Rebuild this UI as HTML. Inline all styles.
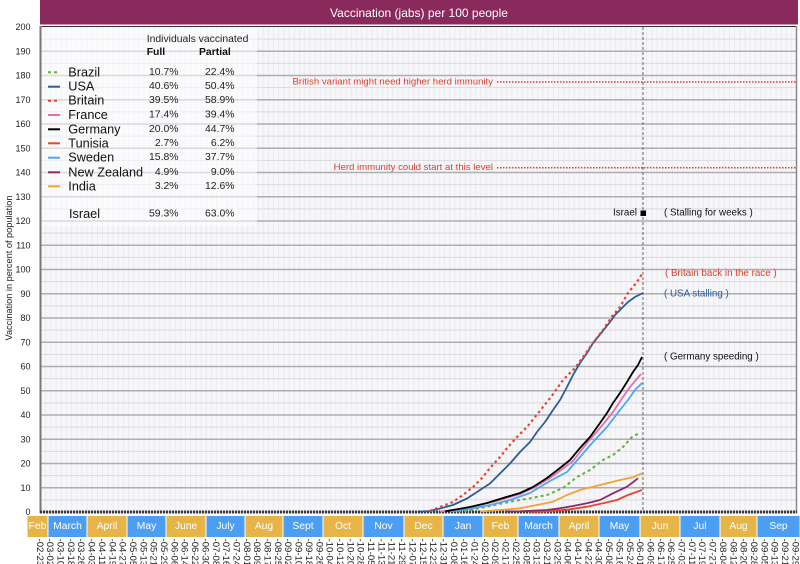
<!DOCTYPE html>
<html><head><meta charset="utf-8"><style>
html,body{margin:0;padding:0;background:#fff;}
svg{display:block;font-family:"Liberation Sans",Arial,sans-serif;}
</style></head><body>
<svg width="800" height="564" viewBox="0 0 800 564" xmlns="http://www.w3.org/2000/svg">
<defs>
<pattern id="vg" x="40" y="0" width="5.18" height="10" patternUnits="userSpaceOnUse">
<rect x="0" y="0" width="5.18" height="10" fill="#f7f7fa"/>
<rect x="0" y="0" width="1" height="10" fill="#ebebf0"/>
</pattern>
</defs>
<!-- title -->
<rect x="40" y="0" width="758" height="24.5" fill="#8A2A5C"/>
<text x="419" y="13" fill="#fff" font-size="12" text-anchor="middle" dominant-baseline="central">Vaccination (jabs) per 100 people</text>
<!-- plot bg -->
<rect x="40" y="27" width="757" height="485" fill="url(#vg)"/>
<line x1="40" y1="26.5" x2="797" y2="26.5" stroke="#333" stroke-width="1"/>
<!-- minor gridlines -->
<g stroke="#dadade" stroke-width="1">
<line x1="40" x2="797" y1="499.9" y2="499.9"/><line x1="40" x2="797" y1="475.6" y2="475.6"/><line x1="40" x2="797" y1="451.4" y2="451.4"/><line x1="40" x2="797" y1="427.1" y2="427.1"/><line x1="40" x2="797" y1="402.9" y2="402.9"/><line x1="40" x2="797" y1="378.6" y2="378.6"/><line x1="40" x2="797" y1="354.4" y2="354.4"/><line x1="40" x2="797" y1="330.1" y2="330.1"/><line x1="40" x2="797" y1="305.9" y2="305.9"/><line x1="40" x2="797" y1="281.6" y2="281.6"/><line x1="40" x2="797" y1="257.4" y2="257.4"/><line x1="40" x2="797" y1="233.1" y2="233.1"/><line x1="40" x2="797" y1="208.9" y2="208.9"/><line x1="40" x2="797" y1="184.6" y2="184.6"/><line x1="40" x2="797" y1="160.4" y2="160.4"/><line x1="40" x2="797" y1="136.1" y2="136.1"/><line x1="40" x2="797" y1="111.9" y2="111.9"/><line x1="40" x2="797" y1="87.6" y2="87.6"/><line x1="40" x2="797" y1="63.4" y2="63.4"/><line x1="40" x2="797" y1="39.1" y2="39.1"/>
</g>
<!-- major gridlines -->
<g stroke="#aeaeb2" stroke-width="1.5">
<line x1="40" x2="797" y1="487.8" y2="487.8"/><line x1="40" x2="797" y1="463.5" y2="463.5"/><line x1="40" x2="797" y1="439.3" y2="439.3"/><line x1="40" x2="797" y1="415" y2="415"/><line x1="40" x2="797" y1="390.8" y2="390.8"/><line x1="40" x2="797" y1="366.5" y2="366.5"/><line x1="40" x2="797" y1="342.3" y2="342.3"/><line x1="40" x2="797" y1="318" y2="318"/><line x1="40" x2="797" y1="293.8" y2="293.8"/><line x1="40" x2="797" y1="269.5" y2="269.5"/><line x1="40" x2="797" y1="245.3" y2="245.3"/><line x1="40" x2="797" y1="221" y2="221"/><line x1="40" x2="797" y1="196.8" y2="196.8"/><line x1="40" x2="797" y1="172.5" y2="172.5"/><line x1="40" x2="797" y1="148.3" y2="148.3"/><line x1="40" x2="797" y1="124" y2="124"/><line x1="40" x2="797" y1="99.8" y2="99.8"/><line x1="40" x2="797" y1="75.5" y2="75.5"/><line x1="40" x2="797" y1="51.3" y2="51.3"/>
</g>
<!-- legend backdrop -->
<rect x="41" y="28" width="216" height="198" fill="#ffffff" opacity="0.55"/>
<!-- axes -->
<line x1="40.5" y1="26" x2="40.5" y2="513" stroke="#777" stroke-width="2"/>
<line x1="796.5" y1="26" x2="796.5" y2="513" stroke="#888" stroke-width="1.5"/>
<line x1="40" y1="512" x2="797" y2="512" stroke="#3a3a3a" stroke-width="3" stroke-dasharray="2.2,0.8"/>
<!-- vertical dashed today line -->
<line x1="643" y1="27" x2="643" y2="511" stroke="#666" stroke-width="1" stroke-dasharray="3,2"/>
<!-- y tick labels -->
<g font-size="9" fill="#222" text-anchor="end" dominant-baseline="central">
<text x="30.5" y="512">0</text><text x="30.5" y="487.8">10</text><text x="30.5" y="463.5">20</text><text x="30.5" y="439.3">30</text><text x="30.5" y="415">40</text><text x="30.5" y="390.8">50</text><text x="30.5" y="366.5">60</text><text x="30.5" y="342.3">70</text><text x="30.5" y="318">80</text><text x="30.5" y="293.8">90</text><text x="30.5" y="269.5">100</text><text x="30.5" y="245.3">110</text><text x="30.5" y="221">120</text><text x="30.5" y="196.8">130</text><text x="30.5" y="172.5">140</text><text x="30.5" y="148.3">150</text><text x="30.5" y="124">160</text><text x="30.5" y="99.8">170</text><text x="30.5" y="75.5">180</text><text x="30.5" y="51.3">190</text><text x="30.5" y="27">200</text>
</g>
<text transform="translate(9,268) rotate(-90)" font-size="9.2" fill="#222" text-anchor="middle" dominant-baseline="central">Vaccination in percent of population</text>
<!-- reference lines -->
<line x1="497" y1="82" x2="796" y2="82" stroke="#E0402C" stroke-width="1.5" stroke-dasharray="1.5,1.5"/>
<line x1="497" y1="167.7" x2="796" y2="167.7" stroke="#E0402C" stroke-width="1.5" stroke-dasharray="1.5,1.5"/>
<g font-size="9.6" fill="#D8402C" text-anchor="end" dominant-baseline="central">
<text x="493" y="82">British variant might need higher herd immunity</text>
<text x="493" y="167.7">Herd immunity could start at this level</text>
</g>
<!-- annotations -->
<rect x="640.5" y="210.5" width="5.5" height="5.5" fill="#000"/>
<g font-size="9.8" dominant-baseline="central">
<text x="637" y="213" fill="#111" text-anchor="end">Israel</text>
<text x="664" y="213" fill="#111">( Stalling for weeks )</text>
<text x="665" y="273.5" fill="#D8402C">( Britain back in the race )</text>
<text x="664" y="294" fill="#2D5D95">( USA stalling )</text>
<text x="664" y="357" fill="#111">( Germany speeding )</text>
</g>
<!-- series -->
<g fill="none" stroke-linejoin="round" stroke-linecap="butt">
<polyline stroke="#E4472D" stroke-width="1.8" points="530,511.8 547,511.5 570,509.3 587,506.7 603,503.3 617,500 628,495 642,490"/>
<polyline stroke="#8A2A6B" stroke-width="1.8" points="505,511.5 520,511.3 547,510 560,508.3 573,506 587,503.3 600,500 613,493.3 627,486.7 638,478.3"/>
<polyline stroke="#F5A133" stroke-width="1.8" points="480,511.5 500,510 520,508.3 537,505 553,501.7 567,495 580,490 593,486.7 607,483.3 620,480 633,477.3 642,473.3"/>
<polyline stroke="#5FB13C" stroke-width="2" stroke-dasharray="3,3" points="458,511.5 470,510 487,506.7 510,501.7 530,498.3 547,495 563,488 577,477 590,470 603,460 613,455 623,447 632,437 640,432.7"/>
<polyline stroke="#4EA5F2" stroke-width="1.8" points="450,511.5 470,509 490,505 510,500 530,493 550,481 567,472 580,457 593,442 607,427 620,410 628,400 635,390 642,383"/>
<polyline stroke="#E26FB0" stroke-width="1.8" points="440,511.5 460,509 480,505 500,500 520,494 535,487 550,478 565,467 573,461 587,443 600,428 613,412 623,397 630,387 641,374"/>
<polyline stroke="#000" stroke-width="1.8" points="445,511.5 450,510.5 470,507 487,503 503,498 520,493 533,487 547,478 560,468 570,460 580,448 590,437 600,423 607,413 613,403 620,393 627,382 633,372 638,365 642,357"/>
<polyline stroke="#2D5D95" stroke-width="1.8" points="420,511.5 430,511 440,508.5 453,505 467,498.5 480,490 490,483.5 500,473.5 510,463.5 520,452 530,442 537,432 545,422 553,410 560,400 567,387 573,375 580,363 587,353 593,343 602,332 610,322 615,315 622,308 628,302 635,297 643,293"/>
<polyline stroke="#E8412F" stroke-width="2.2" stroke-dasharray="2.5,3" points="430,511 440,507 453,502 463,495 473,487 482,478 490,468 500,457 508,447 517,437 527,427 535,417 543,407 551,397 563,380 575,368 583,357 593,343 603,330 613,315 620,307 628,293 637,282 642,274"/>
</g>
<!-- legend -->
<text x="146.7" y="39.5" font-size="10.4" fill="#222" dominant-baseline="central">Individuals vaccinated</text>
<text x="146.7" y="52.5" font-size="10.4" font-weight="bold" fill="#111" dominant-baseline="central">Full</text>
<text x="199" y="52.5" font-size="10.4" font-weight="bold" fill="#111" dominant-baseline="central">Partial</text>
<g stroke-width="2">
<line x1="48" x2="60" y1="72.3" y2="72.3" stroke="#5FB13C" stroke-dasharray="3,3"/>
<line x1="48" x2="60" y1="86.7" y2="86.7" stroke="#2D5D95"/>
<line x1="48" x2="60" y1="100.7" y2="100.7" stroke="#E8412F" stroke-dasharray="3,3"/>
<line x1="48" x2="60" y1="115" y2="115" stroke="#E26FB0"/>
<line x1="48" x2="60" y1="129.3" y2="129.3" stroke="#000"/>
<line x1="48" x2="60" y1="143.3" y2="143.3" stroke="#E4472D"/>
<line x1="48" x2="60" y1="157.7" y2="157.7" stroke="#4EA5F2"/>
<line x1="48" x2="60" y1="172.3" y2="172.3" stroke="#8A2A6B"/>
<line x1="48" x2="60" y1="186.3" y2="186.3" stroke="#F5A133"/>
</g>
<g font-size="12.7" fill="#111" dominant-baseline="central">
<text x="68.3" y="72.3">Brazil</text>
<text x="68.3" y="86.7">USA</text>
<text x="68.3" y="100.7">Britain</text>
<text x="68.3" y="115">France</text>
<text x="68.3" y="129.3">Germany</text>
<text x="68.3" y="143.3">Tunisia</text>
<text x="68.3" y="157.7">Sweden</text>
<text x="68.3" y="172.3">New Zealand</text>
<text x="68.3" y="186.3">India</text>
<text x="69" y="214">Israel</text>
</g>
<g font-size="10.4" fill="#222" text-anchor="end" dominant-baseline="central">
<text x="178.5" y="72.3">10.7%</text><text x="234.5" y="72.3">22.4%</text>
<text x="178.5" y="86.7">40.6%</text><text x="234.5" y="86.7">50.4%</text>
<text x="178.5" y="100.7">39.5%</text><text x="234.5" y="100.7">58.9%</text>
<text x="178.5" y="115">17.4%</text><text x="234.5" y="115">39.4%</text>
<text x="178.5" y="129.3">20.0%</text><text x="234.5" y="129.3">44.7%</text>
<text x="178.5" y="143.3">2.7%</text><text x="234.5" y="143.3">6.2%</text>
<text x="178.5" y="157.7">15.8%</text><text x="234.5" y="157.7">37.7%</text>
<text x="178.5" y="172.3">4.9%</text><text x="234.5" y="172.3">9.0%</text>
<text x="178.5" y="186.3">3.2%</text><text x="234.5" y="186.3">12.6%</text>
<text x="178.5" y="214">59.3%</text><text x="234.5" y="214">63.0%</text>
</g>
<!-- month band -->
<g stroke="#fff" stroke-width="1">
<rect x="27" y="515.5" width="21" height="22" fill="#E6B447"/>
<rect x="48" y="515.5" width="39" height="22" fill="#4C9EF2"/>
<rect x="87" y="515.5" width="40" height="22" fill="#E6B447"/>
<rect x="127" y="515.5" width="39" height="22" fill="#4C9EF2"/>
<rect x="166" y="515.5" width="40" height="22" fill="#E6B447"/>
<rect x="206" y="515.5" width="39" height="22" fill="#4C9EF2"/>
<rect x="245" y="515.5" width="38" height="22" fill="#E6B447"/>
<rect x="283" y="515.5" width="40" height="22" fill="#4C9EF2"/>
<rect x="323" y="515.5" width="40" height="22" fill="#E6B447"/>
<rect x="363" y="515.5" width="41" height="22" fill="#4C9EF2"/>
<rect x="404" y="515.5" width="39" height="22" fill="#E6B447"/>
<rect x="443" y="515.5" width="40" height="22" fill="#4C9EF2"/>
<rect x="483" y="515.5" width="35" height="22" fill="#E6B447"/>
<rect x="518" y="515.5" width="41" height="22" fill="#4C9EF2"/>
<rect x="559" y="515.5" width="40" height="22" fill="#E6B447"/>
<rect x="599" y="515.5" width="41" height="22" fill="#4C9EF2"/>
<rect x="640" y="515.5" width="40" height="22" fill="#E6B447"/>
<rect x="680" y="515.5" width="40" height="22" fill="#4C9EF2"/>
<rect x="720" y="515.5" width="37" height="22" fill="#E6B447"/>
<rect x="757" y="515.5" width="43" height="22" fill="#4C9EF2"/>
</g>
<g font-size="10.3" fill="#fff" text-anchor="middle" dominant-baseline="central">
<text x="37.5" y="526.5">Feb</text><text x="67.5" y="526.5">March</text><text x="107" y="526.5">April</text><text x="146.5" y="526.5">May</text><text x="186" y="526.5">June</text><text x="225.5" y="526.5">July</text><text x="264" y="526.5">Aug</text><text x="303" y="526.5">Sept</text><text x="343" y="526.5">Oct</text><text x="383.5" y="526.5">Nov</text><text x="423.5" y="526.5">Dec</text><text x="463" y="526.5">Jan</text><text x="500.5" y="526.5">Feb</text><text x="538.5" y="526.5">March</text><text x="579" y="526.5">April</text><text x="619.5" y="526.5">May</text><text x="660" y="526.5">Jun</text><text x="700" y="526.5">Jul</text><text x="738.5" y="526.5">Aug</text><text x="778.5" y="526.5">Sep</text>
</g>
<!-- date labels -->
<g font-size="9.6" fill="#222" dominant-baseline="central">
<text transform="translate(39.3,538.5) rotate(90)">-02-23</text>
<text transform="translate(49.65,538.5) rotate(90)">-03-02</text>
<text transform="translate(60,538.5) rotate(90)">-03-10</text>
<text transform="translate(70.35,538.5) rotate(90)">-03-18</text>
<text transform="translate(80.7,538.5) rotate(90)">-03-26</text>
<text transform="translate(91.05,538.5) rotate(90)">-04-03</text>
<text transform="translate(101.4,538.5) rotate(90)">-04-11</text>
<text transform="translate(111.75,538.5) rotate(90)">-04-19</text>
<text transform="translate(122.1,538.5) rotate(90)">-04-27</text>
<text transform="translate(132.45,538.5) rotate(90)">-05-05</text>
<text transform="translate(142.8,538.5) rotate(90)">-05-13</text>
<text transform="translate(153.15,538.5) rotate(90)">-05-21</text>
<text transform="translate(163.5,538.5) rotate(90)">-05-29</text>
<text transform="translate(173.85,538.5) rotate(90)">-06-06</text>
<text transform="translate(184.2,538.5) rotate(90)">-06-14</text>
<text transform="translate(194.55,538.5) rotate(90)">-06-22</text>
<text transform="translate(204.9,538.5) rotate(90)">-06-30</text>
<text transform="translate(215.25,538.5) rotate(90)">-07-08</text>
<text transform="translate(225.6,538.5) rotate(90)">-07-16</text>
<text transform="translate(235.95,538.5) rotate(90)">-07-24</text>
<text transform="translate(246.3,538.5) rotate(90)">-08-01</text>
<text transform="translate(256.65,538.5) rotate(90)">-08-09</text>
<text transform="translate(267,538.5) rotate(90)">-08-17</text>
<text transform="translate(277.35,538.5) rotate(90)">-08-25</text>
<text transform="translate(287.7,538.5) rotate(90)">-09-02</text>
<text transform="translate(298.05,538.5) rotate(90)">-09-10</text>
<text transform="translate(308.4,538.5) rotate(90)">-09-18</text>
<text transform="translate(318.75,538.5) rotate(90)">-09-26</text>
<text transform="translate(329.1,538.5) rotate(90)">-10-04</text>
<text transform="translate(339.45,538.5) rotate(90)">-10-12</text>
<text transform="translate(349.8,538.5) rotate(90)">-10-20</text>
<text transform="translate(360.15,538.5) rotate(90)">-10-28</text>
<text transform="translate(370.5,538.5) rotate(90)">-11-05</text>
<text transform="translate(380.85,538.5) rotate(90)">-11-13</text>
<text transform="translate(391.2,538.5) rotate(90)">-11-21</text>
<text transform="translate(401.55,538.5) rotate(90)">-11-29</text>
<text transform="translate(411.9,538.5) rotate(90)">-12-07</text>
<text transform="translate(422.25,538.5) rotate(90)">-12-15</text>
<text transform="translate(432.6,538.5) rotate(90)">-12-23</text>
<text transform="translate(442.95,538.5) rotate(90)">-12-31</text>
<text transform="translate(453.3,538.5) rotate(90)">-01-08</text>
<text transform="translate(463.65,538.5) rotate(90)">-01-16</text>
<text transform="translate(474,538.5) rotate(90)">-01-24</text>
<text transform="translate(484.35,538.5) rotate(90)">-02-01</text>
<text transform="translate(494.7,538.5) rotate(90)">-02-09</text>
<text transform="translate(505.05,538.5) rotate(90)">-02-17</text>
<text transform="translate(515.4,538.5) rotate(90)">-02-25</text>
<text transform="translate(525.75,538.5) rotate(90)">-03-05</text>
<text transform="translate(536.1,538.5) rotate(90)">-03-13</text>
<text transform="translate(546.45,538.5) rotate(90)">-03-21</text>
<text transform="translate(556.8,538.5) rotate(90)">-03-29</text>
<text transform="translate(567.15,538.5) rotate(90)">-04-06</text>
<text transform="translate(577.5,538.5) rotate(90)">-04-14</text>
<text transform="translate(587.85,538.5) rotate(90)">-04-22</text>
<text transform="translate(598.2,538.5) rotate(90)">-04-30</text>
<text transform="translate(608.55,538.5) rotate(90)">-05-08</text>
<text transform="translate(618.9,538.5) rotate(90)">-05-16</text>
<text transform="translate(629.25,538.5) rotate(90)">-05-24</text>
<text transform="translate(639.6,538.5) rotate(90)">-06-01</text>
<text transform="translate(649.95,538.5) rotate(90)">-06-09</text>
<text transform="translate(660.3,538.5) rotate(90)">-06-17</text>
<text transform="translate(670.65,538.5) rotate(90)">-06-25</text>
<text transform="translate(681,538.5) rotate(90)">-07-03</text>
<text transform="translate(691.35,538.5) rotate(90)">-07-11</text>
<text transform="translate(701.7,538.5) rotate(90)">-07-19</text>
<text transform="translate(712.05,538.5) rotate(90)">-07-27</text>
<text transform="translate(722.4,538.5) rotate(90)">-08-04</text>
<text transform="translate(732.75,538.5) rotate(90)">-08-12</text>
<text transform="translate(743.1,538.5) rotate(90)">-08-20</text>
<text transform="translate(753.45,538.5) rotate(90)">-08-28</text>
<text transform="translate(763.8,538.5) rotate(90)">-09-05</text>
<text transform="translate(774.15,538.5) rotate(90)">-09-13</text>
<text transform="translate(784.5,538.5) rotate(90)">-09-21</text>
<text transform="translate(794.85,538.5) rotate(90)">-09-29</text>
</g>
</svg>
</body></html>
